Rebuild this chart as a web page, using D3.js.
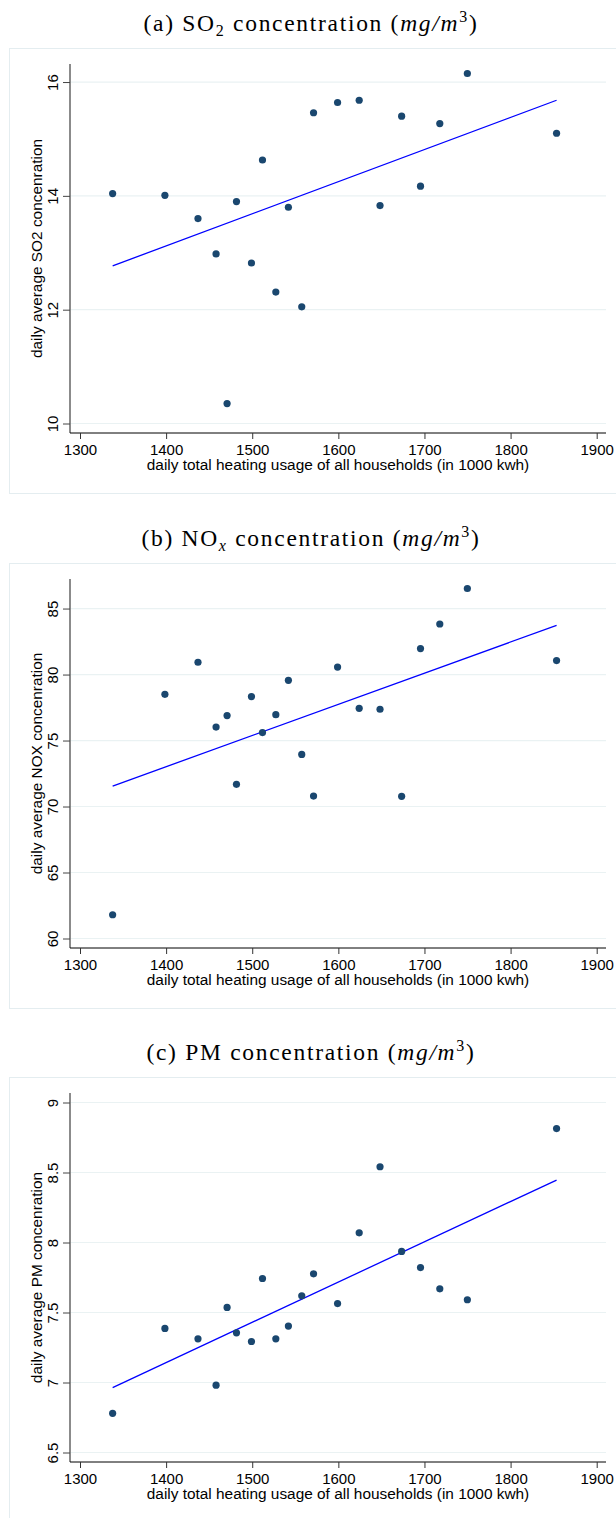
<!DOCTYPE html>
<html>
<head>
<meta charset="utf-8">
<script src="https://cdn.jsdelivr.net/npm/d3@7"></script>
<style>
  body { margin: 0; background: #fff; }
  svg { display: block; }
</style>
</head>
<body>
<svg id="chart" width="616" height="1518"></svg>
<script>
// bin means of daily heating usage (x) and the three pollutants
const heating = [1337.9, 1398.6, 1437, 1458, 1470.8, 1481.7, 1499.1, 1511.9, 1527.4, 1542,
                 1557.5, 1571.2, 1599.1, 1624.2, 1648.4, 1673.5, 1695.4, 1717.8, 1749.8, 1853.4];
const so2 = [14.04, 14.01, 13.60, 12.98, 10.35, 13.90, 12.82, 14.63, 12.31, 13.80,
             12.05, 15.46, 15.64, 15.68, 13.83, 15.40, 14.17, 15.27, 16.15, 15.10];
const nox = [61.8, 78.50, 80.93, 76.02, 76.89, 71.68, 78.33, 75.6, 76.96, 79.56,
             73.95, 70.79, 80.57, 77.44, 77.37, 70.77, 81.97, 83.83, 86.52, 81.06];
const pm = [6.78, 7.386, 7.312, 6.981, 7.536, 7.355, 7.293, 7.743, 7.312, 7.403,
            7.619, 7.776, 7.564, 8.069, 8.541, 7.936, 7.821, 7.669, 7.591, 8.814];

// fitted lines (start and end of the linear fit)
const fitX = [1337.9, 1853.4];
const fitSO2 = [12.77, 15.68];
const fitNOX = [71.55, 83.73];
const fitPM = [6.964, 8.446];

// tick labels
const xTicks = [1300, 1400, 1500, 1600, 1700, 1800, 1900];
const so2Ticks = [10, 12, 14, 16];
const noxTicks = [60, 65, 70, 75, 80, 85];
const pmTicks = [6.5, 7, 7.5, 8, 8.5, 9];

// title pieces
const titleSO2 = [{t: "(a) SO"}, {t: "2", sub: true}, {t: " concentration ("},
                  {t: "mg/m", it: true}, {t: "3", sup: true}, {t: ")"}];
const titleNOX = [{t: "(b) NO"}, {t: "x", sub: true, it: true}, {t: " concentration ("},
                  {t: "mg/m", it: true}, {t: "3", sup: true}, {t: ")"}];
const titlePM = [{t: "(c) PM concentration ("}, {t: "mg/m", it: true}, {t: "3", sup: true}, {t: ")"}];

const xTitle = "daily total heating usage of all households (in 1000 kwh)";

const panels = [
  {top: 48, title: titleSO2, yTitle: "daily average SO2 concenration", y: so2, fit: fitSO2, ticks: so2Ticks},
  {top: 563, title: titleNOX, yTitle: "daily average NOX concenration", y: nox, fit: fitNOX, ticks: noxTicks},
  {top: 1077, title: titlePM, yTitle: "daily average PM concenration", y: pm, fit: fitPM, ticks: pmTicks}
];

const svg = d3.select("#chart");
const sans = "'Liberation Sans', Arial, sans-serif";
const serif = "'Liberation Serif', 'Times New Roman', serif";

// same x scale for every panel
const x = d3.scaleLinear().domain([1300, 1900]).range([80, 596.7]);
const axisLeft = 70, axisRight = 606;
const pad = 9.5;

panels.forEach((p) => {
  let g = svg.append("g");
  let plotTop = p.top + 16, plotBottom = p.top + 385;

  // panel frame
  g.append("rect")
    .attr("x", 9.5).attr("y", p.top + 0.5)
    .attr("width", 640).attr("height", 445)
    .attr("fill", "none").attr("stroke", "#e4edf0");

  // title with sub/superscripts
  let title = g.append("text")
    .attr("x", 311).attr("y", p.top - 17.5)
    .attr("text-anchor", "middle")
    .style("font-family", serif).style("font-size", "23.5px")
    .style("letter-spacing", "1.7px").style("fill", "#000");
  p.title.forEach((part, i) => {
    let ts = title.append("tspan").text(part.t);
    if (part.it) ts.style("font-style", "italic");
    if (part.sub) ts.attr("dy", 5).style("font-size", "16px");
    if (part.sup) ts.attr("dy", -9).style("font-size", "16px");
    // go back to the baseline after a shifted piece
    let prev = p.title[i - 1];
    if (prev && prev.sub) ts.attr("dy", -5);
    if (prev && prev.sup) ts.attr("dy", 9);
  });

  // y scale padded around ticks and data
  let lo = d3.min(p.ticks.concat(p.y)), hi = d3.max(p.ticks.concat(p.y));
  let y = d3.scaleLinear().domain([lo, hi]).range([plotBottom - pad, plotTop + pad]);

  // gridlines
  g.selectAll(".grid").data(p.ticks).join("line")
    .attr("x1", axisLeft).attr("x2", axisRight)
    .attr("y1", (d) => y(d)).attr("y2", (d) => y(d))
    .attr("stroke", "#eaf2f3").attr("stroke-width", 1.2);

  // y axis
  let yAxis = g.append("g").attr("transform", `translate(${axisLeft},0)`)
    .call(d3.axisLeft(y).tickValues(p.ticks).tickSize(7).tickSizeOuter(0).tickFormat(d3.format("")));
  yAxis.select(".domain").attr("d", `M0,${plotTop}V${plotBottom}`)
    .attr("stroke", "#6e6e6e").attr("stroke-width", 1.6);
  yAxis.selectAll(".tick line").attr("stroke", "#444");
  yAxis.selectAll(".tick text")
    .attr("x", 0).attr("y", 0).attr("dy", 0)
    .attr("transform", "rotate(-90) translate(0,-12.5)")
    .attr("text-anchor", "middle")
    .style("font-family", sans).style("font-size", "15px").style("fill", "#000");

  // x axis
  let xAxis = g.append("g").attr("transform", `translate(0,${plotBottom})`)
    .call(d3.axisBottom(x).tickValues(xTicks).tickSize(6).tickSizeOuter(0).tickFormat(d3.format("")));
  xAxis.select(".domain").attr("d", `M${axisLeft},0H${axisRight}`).attr("stroke", "#000");
  xAxis.selectAll(".tick line").attr("stroke", "#333");
  xAxis.selectAll(".tick text")
    .attr("y", 406.5 - 385).attr("dy", 0)
    .style("font-family", sans).style("font-size", "15px").style("fill", "#000");

  // axis titles
  g.append("text")
    .attr("x", 338).attr("y", p.top + 422)
    .attr("text-anchor", "middle")
    .style("font-family", sans).style("font-size", "15.4px")
    .text(xTitle);
  g.append("text")
    .attr("transform", `translate(41.5,${(plotTop + plotBottom) / 2}) rotate(-90)`)
    .attr("text-anchor", "middle")
    .style("font-family", sans).style("font-size", "15.4px")
    .text(p.yTitle);

  // fitted line
  g.append("path")
    .datum(fitX.map((d, i) => [d, p.fit[i]]))
    .attr("d", d3.line().x((d) => x(d[0])).y((d) => y(d[1])))
    .attr("fill", "none").attr("stroke", "#0000ff").attr("stroke-width", 1.3);

  // bin scatter points
  g.selectAll(".dot").data(heating.map((d, i) => [d, p.y[i]])).join("circle")
    .attr("cx", (d) => x(d[0])).attr("cy", (d) => y(d[1]))
    .attr("r", 3.6).attr("fill", "#1a476f");
});
</script>
</body>
</html>
